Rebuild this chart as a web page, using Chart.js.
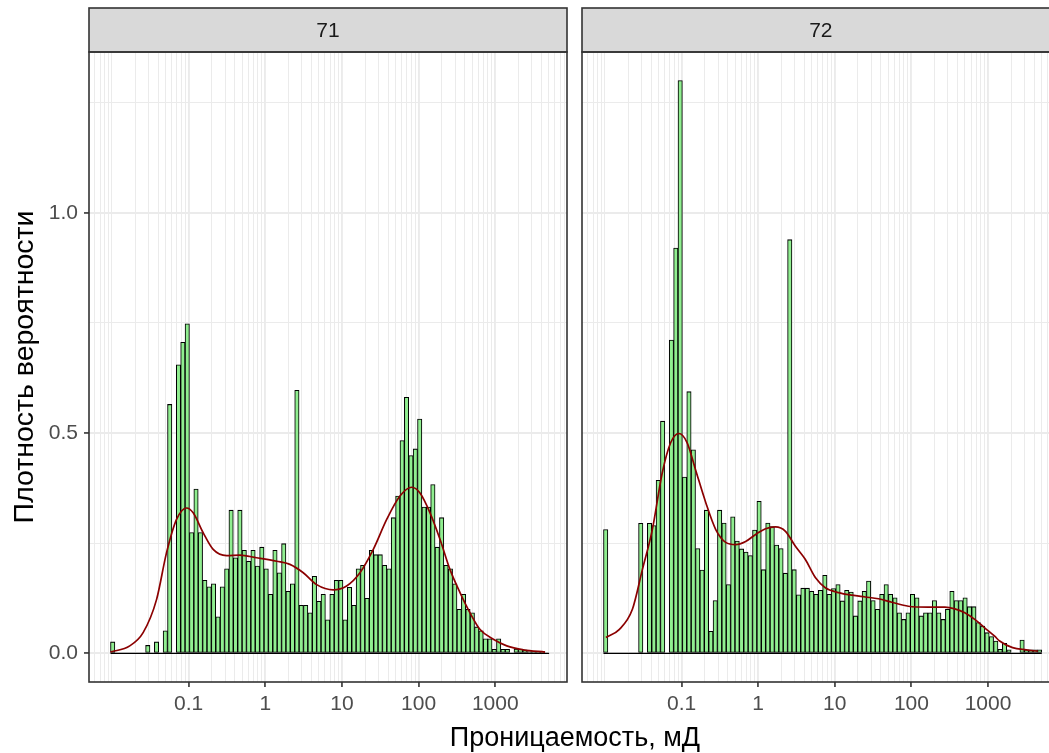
<!DOCTYPE html>
<html>
<head>
<meta charset="utf-8">
<script src="https://cdn.jsdelivr.net/npm/chart.js@4.4.1/dist/chart.umd.min.js"></script>
<style>
  html, body { margin: 0; padding: 0; background: #fff; overflow: hidden; }
  body { width: 1049px; height: 753px; position: relative; }
  .panel { position: absolute; top: 0; height: 753px; }
  #box71 { left: 0; width: 575px; }
  #box72 { left: 574px; width: 493px; }
  #xTitle {
    position: absolute; left: 375px; width: 400px; top: 720px;
    text-align: center; font: 27px "Liberation Sans", Arial, sans-serif;
    line-height: 34px; color: #000;
  }
</style>
</head>
<body>
<div class="panel" id="box71"><canvas id="chart71"></canvas></div>
<div class="panel" id="box72"><canvas id="chart72"></canvas></div>
<div id="xTitle">Проницаемость, мД</div>
<script>
// ===== данные: гистограмма в log10(мД), 100 интервалов =====
const BIN_START = -2.0196;   // левая граница первого интервала, log10(мД)
const BIN_WIDTH = 0.05722;   // ширина интервала, log10(мД)

const bars71 = [
  0.026, 0, 0, 0, 0, 0, 0, 0, 0.018, 0,
  0.026, 0, 0.051, 0.565, 0, 0.655, 0.706, 0.748, 0.274, 0.373,
  0.274, 0.166, 0.151, 0.158, 0.083, 0.151, 0.192, 0.325, 0.217, 0.325,
  0.234, 0.209, 0.234, 0.198, 0.241, 0.192, 0.134, 0.234, 0.183, 0.249,
  0.141, 0.158, 0.597, 0.109, 0.109, 0.092, 0.175, 0.118, 0.134, 0.076,
  0.134, 0.166, 0.166, 0.076, 0.150, 0.109, 0.192, 0.200, 0.125, 0.234,
  0.224, 0.224, 0.200, 0.192, 0.308, 0.357, 0.483, 0.581, 0.449, 0.464,
  0.532, 0.332, 0.332, 0.383, 0.241, 0.308, 0.200, 0.192, 0.158, 0.100,
  0.134, 0.100, 0.092, 0.060, 0.051, 0.033, 0.033, 0.009, 0.033, 0.009,
  0.009, 0, 0.010, 0.010, 0.008, 0.004, 0.004, 0.004, 0.004, 0
];

const bars72 = [
  0.281, 0, 0, 0, 0, 0, 0, 0, 0.295, 0,
  0.295, 0.290, 0.393, 0.527, 0, 0.711, 0.920, 1.300, 0.400, 0.594,
  0.462, 0.238, 0.189, 0.325, 0.050, 0.120, 0.325, 0.296, 0.156, 0.310,
  0.255, 0.237, 0.230, 0.222, 0.280, 0.345, 0.190, 0.296, 0.288, 0.246,
  0.238, 0.182, 0.939, 0.190, 0.133, 0.148, 0.148, 0.141, 0.134, 0.143,
  0.177, 0.134, 0.147, 0.156, 0.119, 0.143, 0.139, 0.085, 0.119, 0.141,
  0.164, 0.120, 0.100, 0.134, 0.156, 0.134, 0.126, 0.092, 0.077, 0.092,
  0.134, 0.126, 0.085, 0.092, 0.092, 0.120, 0.092, 0.077, 0.100, 0.141,
  0.120, 0.120, 0.126, 0.106, 0.106, 0.070, 0.062, 0.047, 0.038, 0.028,
  0.009, 0.023, 0.008, 0, 0, 0.030, 0.008, 0.008, 0.008, 0.008
];

// ===== кривые плотности (x: log10 мД) =====
const dens71X = [-2.020, -1.768, -1.594, -1.419, -1.289, -1.158, -1.027, -0.941, -0.811, -0.680,
  -0.505, -0.332, -0.114, 0.148, 0.321, 0.495, 0.670, 0.886, 1.061, 1.235,
  1.409, 1.584, 1.757, 1.910, 2.018, 2.149, 2.279, 2.410, 2.540, 2.671,
  2.802, 2.975, 3.150, 3.367, 3.650];
const dens71Y = [0.003, 0.017, 0.047, 0.122, 0.228, 0.304, 0.330, 0.319, 0.274, 0.236,
  0.222, 0.223, 0.217, 0.209, 0.202, 0.183, 0.156, 0.144, 0.153, 0.183,
  0.236, 0.304, 0.357, 0.377, 0.364, 0.319, 0.259, 0.190, 0.138, 0.092,
  0.054, 0.032, 0.017, 0.008, 0.003];

const dens72X = [-1.988, -1.815, -1.642, -1.512, -1.382, -1.252, -1.143, -1.035, -0.927, -0.818,
  -0.684, -0.554, -0.424, -0.294, -0.164, -0.034, 0.096, 0.226, 0.356, 0.486,
  0.616, 0.746, 0.876, 1.049, 1.224, 1.397, 1.570, 1.744, 1.960, 2.220,
  2.437, 2.567, 2.697, 2.827, 2.957, 3.087, 3.152, 3.321, 3.499, 3.650];
const dens72Y = [0.036, 0.054, 0.100, 0.190, 0.281, 0.410, 0.478, 0.499, 0.478, 0.417,
  0.342, 0.281, 0.252, 0.247, 0.254, 0.270, 0.283, 0.287, 0.277, 0.243,
  0.213, 0.172, 0.149, 0.138, 0.132, 0.128, 0.124, 0.116, 0.107, 0.105,
  0.105, 0.101, 0.092, 0.077, 0.058, 0.039, 0.028, 0.013, 0.008, 0.005];

// ===== оси =====
const xBreaks = [0.1, 1, 10, 100, 1000];
const xBreakLabels = ['0.1', '1', '10', '100', '1000'];
const yBreaks = [0, 0.5, 1.0];
const yBreakLabels = ['0.0', '0.5', '1.0'];
const yMinor = [0.25, 0.75, 1.25];
const X_MIN = -2.30, X_MAX = 3.936;
const Y_MIN = -0.065, Y_MAX = 1.365;

const FONT = '"Liberation Sans", Arial, sans-serif';
const GRID = '#EBEBEB';
const DARK = '#333333';

// все линии сетки по x: m * 10^k
const xGridValues = [];
for (let e = -3; e <= 4; e++) {
  for (let m = 1; m <= 9; m++) {
    const v = e + Math.log10(m);
    if (v >= X_MIN && v <= X_MAX) xGridValues.push(v);
  }
}
const yGridValues = yBreaks.concat(yMinor).sort((a, b) => a - b);

function xBreakIndex(v) {
  return xBreaks.findIndex(b => Math.abs(Math.log10(b) - v) < 1e-6);
}
function yBreakIndex(v) {
  return yBreaks.findIndex(b => Math.abs(b - v) < 1e-6);
}

// рамка панели + полоса с заголовком фасета
const panelFrame = {
  id: 'panelFrame',
  afterDraw(chart, args, opts) {
    const { ctx, chartArea: a } = chart;
    const stripTop = 8;
    ctx.save();
    ctx.fillStyle = '#D9D9D9';
    ctx.fillRect(a.left, stripTop, a.right - a.left, a.top - stripTop);
    ctx.strokeStyle = DARK;
    ctx.lineWidth = 1.6;
    ctx.strokeRect(a.left, stripTop, a.right - a.left, a.top - stripTop);
    ctx.strokeRect(a.left, a.top, a.right - a.left, a.bottom - a.top);
    ctx.fillStyle = '#1A1A1A';
    ctx.font = '21px ' + FONT;
    ctx.textAlign = 'center';
    ctx.textBaseline = 'middle';
    ctx.fillText(opts.label, (a.left + a.right) / 2, (stripTop + a.top) / 2 + 1);
    ctx.restore();
  }
};

function buildPanel(canvasId, stripLabel, bars, densX, densY, showY) {
  const barPoints = bars.map((v, i) => ({ x: BIN_START + (i + 0.5) * BIN_WIDTH, y: v }));
  const densPoints = densX.map((x, i) => ({ x: x, y: densY[i] }));
  const baseLine = [{ x: BIN_START, y: 0 }, { x: BIN_START + bars.length * BIN_WIDTH, y: 0 }];

  return new Chart(document.getElementById(canvasId), {
    type: 'bar',
    data: {
      datasets: [
        {
          type: 'line',
          data: densPoints,
          borderColor: '#8B0000',
          borderWidth: 1.7,
          pointRadius: 0,
          cubicInterpolationMode: 'monotone',
          fill: false,
          order: 0
        },
        {
          type: 'line',
          data: baseLine,
          borderColor: '#000000',
          borderWidth: 1.4,
          pointRadius: 0,
          fill: false,
          order: 1
        },
        {
          type: 'bar',
          data: barPoints,
          backgroundColor: '#90EE90',
          borderColor: '#000000',
          borderWidth: 1.05,
          borderSkipped: false,
          barThickness: 'flex',
          barPercentage: 1,
          categoryPercentage: 1,
          order: 2
        }
      ]
    },
    options: {
      responsive: true,
      maintainAspectRatio: false,
      animation: false,
      events: [],
      layout: { padding: { top: 52, right: showY ? 8 : 7.3, left: showY ? 0 : 8, bottom: 0 } },
      plugins: {
        legend: { display: false },
        tooltip: { enabled: false },
        panelFrame: { label: stripLabel }
      },
      scales: {
        x: {
          type: 'linear',
          min: X_MIN,
          max: X_MAX,
          offset: false,
          border: { display: false },
          grid: {
            offset: false,
            color: GRID,
            lineWidth: c => (xBreakIndex(c.tick.value) >= 0 ? 1.9 : 1),
            tickColor: c => (xBreakIndex(c.tick.value) >= 0 ? DARK : 'rgba(0,0,0,0)'),
            tickLength: 5,
            tickWidth: 1.6
          },
          ticks: {
            autoSkip: false,
            maxRotation: 0,
            padding: 5,
            color: '#4D4D4D',
            font: { family: FONT, size: 21 },
            callback: v => {
              const i = xBreakIndex(v);
              return i >= 0 ? xBreakLabels[i] : '';
            }
          },
          afterBuildTicks: s => { s.ticks = xGridValues.map(v => ({ value: v })); },
          afterFit: s => { s.height = 71; }
        },
        y: {
          type: 'linear',
          min: Y_MIN,
          max: Y_MAX,
          border: { display: false },
          grid: {
            color: GRID,
            lineWidth: c => (yBreakIndex(c.tick.value) >= 0 ? 1.9 : 1),
            drawTicks: showY,
            tickColor: c => (yBreakIndex(c.tick.value) >= 0 ? DARK : 'rgba(0,0,0,0)'),
            tickLength: 5,
            tickWidth: 1.6
          },
          ticks: {
            display: showY,
            padding: 6,
            color: '#4D4D4D',
            font: { family: FONT, size: 21 },
            callback: v => {
              const i = yBreakIndex(v);
              return i >= 0 ? yBreakLabels[i] : '';
            }
          },
          title: {
            display: showY,
            text: 'Плотность вероятности',
            color: '#000000',
            font: { family: FONT, size: 28.5 },
            padding: { top: 8, bottom: 0 }
          },
          afterBuildTicks: s => { s.ticks = yGridValues.map(v => ({ value: v })); },
          afterFit: s => { s.width = showY ? 89 : 0; }
        }
      }
    },
    plugins: [panelFrame]
  });
}

buildPanel('chart71', '71', bars71, dens71X, dens71Y, true);
buildPanel('chart72', '72', bars72, dens72X, dens72Y, false);
</script>
</body>
</html>
